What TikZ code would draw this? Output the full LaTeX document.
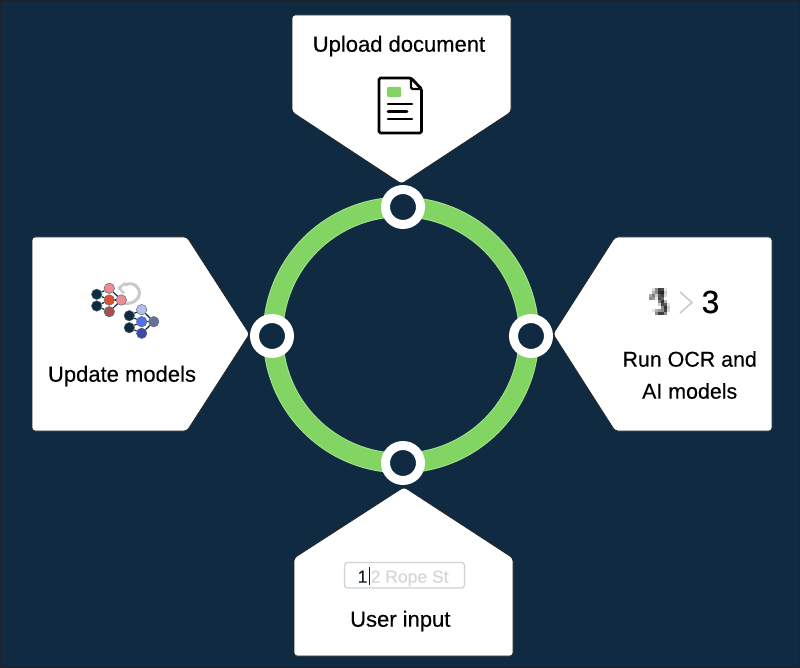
\documentclass[tikz,border=0pt]{standalone}
\usepackage{fontspec}
\setmainfont{Liberation Sans}[RawFeature={embolden=0.35}]
\definecolor{navy}{HTML}{102B41}
\definecolor{edge}{HTML}{1E2226}
\definecolor{ring}{HTML}{82D563}
\definecolor{ring_pale}{HTML}{A4E48C}
\definecolor{box_grey}{HTML}{D2D2D2}
\definecolor{hint_grey}{HTML}{D6D6D6}
\definecolor{arrow_grey}{HTML}{C9C9C9}
\definecolor{chevron_grey}{HTML}{C9C9DA}
\definecolor{pink}{HTML}{F08A94}
\definecolor{orange_red}{HTML}{E0502F}
\definecolor{brown_red}{HTML}{A85050}
\definecolor{lavender}{HTML}{B4BCF0}
\definecolor{bright_blue}{HTML}{5070F0}
\definecolor{grey_blue}{HTML}{6A7098}
\definecolor{indigo}{HTML}{4048A8}
\tikzset{
	panel/.style = {fill = white, draw = edge, line width = 0.8pt, rounded corners = 3pt},
	ring_dot/.style = {circle, draw = white, fill = navy, line width = 9pt, minimum size = 35pt, inner sep = 0pt},
	step_text/.style = {font = \fontsize{22}{32}\selectfont, text = black, inner sep = 0pt},
	net_dot/.style = {circle, draw = navy!70, line width = 0.5pt, minimum size = 10.5pt, inner sep = 0pt},
	net_line/.style = {draw = navy, line width = 1.2pt},
	doc_line/.style = {draw = black, line width = 2.6pt, line cap = round},
}
\begin{document}
\begin{tikzpicture}[x = 1pt, y = -1pt]
\fill[edge]	(0, 0) rectangle (800, 668);
\fill[navy]	(1, 2) rectangle (799, 667);
\useasboundingbox (0, 0) rectangle (800, 668);

% ring
\draw[ring_pale, line width = 20.5pt]	(401, 335) ellipse [x radius = 128, y radius = 128];
\draw[ring, line width = 18.5pt]		(401, 335) ellipse [x radius = 128, y radius = 128];

\path	(403, 207)	node(dot_top)		[ring_dot]	{}
		(531, 336)	node(dot_right)		[ring_dot]	{}
		(403, 463)	node(dot_bottom)	[ring_dot]	{}
		(272, 336)	node(dot_left)		[ring_dot]	{};

% panels
\draw[panel]	(292, 15) -- (511, 15) -- (511, 112) -- (401.5, 184) -- (292, 112) -- cycle;
\draw[panel]	(772, 237) -- (772, 431) -- (615, 431) -- (553, 334) -- (615, 237) -- cycle;
\draw[panel]	(294, 656) -- (513, 656) -- (513, 558) -- (404, 487) -- (294, 558) -- cycle;
\draw[panel]	(32, 237) -- (32, 431) -- (187, 431) -- (249.5, 334) -- (187, 237) -- cycle;

\path	(399, 51.7)		node(upload_label)	[step_text, anchor = base]	{Upload document}
		(689.7, 375)	node(ocr_label)		[step_text, align = center, font = \fontsize{21.4}{32}\selectfont]	{Run OCR and\\AI models}
		(400.3, 626.7)	node(input_label)	[step_text, anchor = base]	{User input}
		(122, 381.7)	node(update_label)	[step_text, anchor = base]	{Update models};

% document icon
\draw[line width = 2.8pt, rounded corners = 1.5pt, fill = white]	(379, 78) -- (411, 78) -- (421.5, 89) -- (421.5, 133) -- (379, 133) -- cycle;
\draw[line width = 2.2pt, rounded corners = 1.5pt]	(411, 78) -- (411, 89) -- (421.5, 89);
\fill[ring, rounded corners = 1pt]	(387, 87) rectangle (401, 97);
\draw[doc_line]	(388, 104) -- (412, 104);
\draw[doc_line]	(388, 111.5) -- (407, 111.5);
\draw[doc_line]	(388, 119) -- (412, 119);

% update icon
\draw[arrow_grey, line width = 3pt]	(125, 285) .. controls (134, 281) and (140, 288) .. (139.5, 293.5) .. controls (139, 300) and (133, 304) .. (124, 303.5);
\draw[arrow_grey, line width = 2.5pt]	(125.5, 283) -- (119, 288) -- (124, 293.5);

\path	(96.7, 294.3)	node(old_in_a)	[net_dot, fill = navy]			{}
		(96.7, 306)		node(old_in_b)	[net_dot, fill = navy]			{}
		(109.3, 288.3)	node(old_top)	[net_dot, fill = pink]			{}
		(109.3, 300)	node(old_mid)	[net_dot, fill = orange_red]	{}
		(109.3, 311.7)	node(old_low)	[net_dot, fill = brown_red]		{}
		(121.3, 300)	node(old_out)	[net_dot, fill = pink]			{}
		(129.3, 315.7)	node(new_in_a)	[net_dot, fill = navy]			{}
		(129.3, 327.7)	node(new_in_b)	[net_dot, fill = navy]			{}
		(141.7, 309.7)	node(new_top)	[net_dot, fill = lavender]		{}
		(141.7, 321.7)	node(new_mid)	[net_dot, fill = bright_blue]	{}
		(141.7, 333.3)	node(new_low)	[net_dot, fill = indigo]		{}
		(153.7, 321.7)	node(new_out)	[net_dot, fill = grey_blue]		{};

\foreach \from/\to in {in_a/top, in_a/mid, in_b/mid, in_b/low, top/out, mid/out, low/out}
{
	\draw[net_line]	(old_\from) -- (old_\to);
	\draw[net_line]	(new_\from) -- (new_\to);
}

% ocr icon
\foreach \col/\row/\shade in {1/0/15, 2/0/45, 3/0/75, 4/0/70, 5/0/10, 1/1/30, 2/1/45, 3/1/80, 4/1/85, 5/1/20, 0/2/35, 1/2/50, 2/2/20, 3/2/65, 4/2/75, 5/2/15,
	0/3/45, 1/3/40, 2/3/10, 3/3/70, 4/3/60, 3/4/50, 4/4/80, 5/4/30, 3/5/20, 4/5/70, 5/5/65, 6/5/10, 4/6/45, 5/6/80, 6/6/20,
	1/7/10, 2/7/30, 3/7/40, 4/7/45, 5/7/75, 6/7/15, 2/8/45, 3/8/75, 4/8/75, 5/8/45}
{
	\fill[black!\shade]	(649 + 3 * \col, 288 + 3 * \row) rectangle ++(3.1, 3.1);
}
\draw[chevron_grey, line width = 1.6pt]	(680, 292) -- (692, 302.5) -- (680, 313);
\path	(710.5, 313)	node(ocr_digit)	[anchor = base, inner sep = 0pt, font = \fontsize{32}{32}\selectfont]	{3};

% input box
\draw[box_grey, line width = 1.3pt, rounded corners = 3pt]	(344.5, 562.5) rectangle (464.5, 588);
\path	(357.5, 582.7)	node(input_text)	[anchor = base west, inner sep = 0pt, text = navy!60!black, font = \fontsize{17.5}{20}\selectfont]
	{1\hspace{1.5pt}\rule[-2.5pt]{0.8pt}{18pt}\hspace{1pt}\textcolor{hint_grey}{2 Rope St}};
\end{tikzpicture}
\end{document}
